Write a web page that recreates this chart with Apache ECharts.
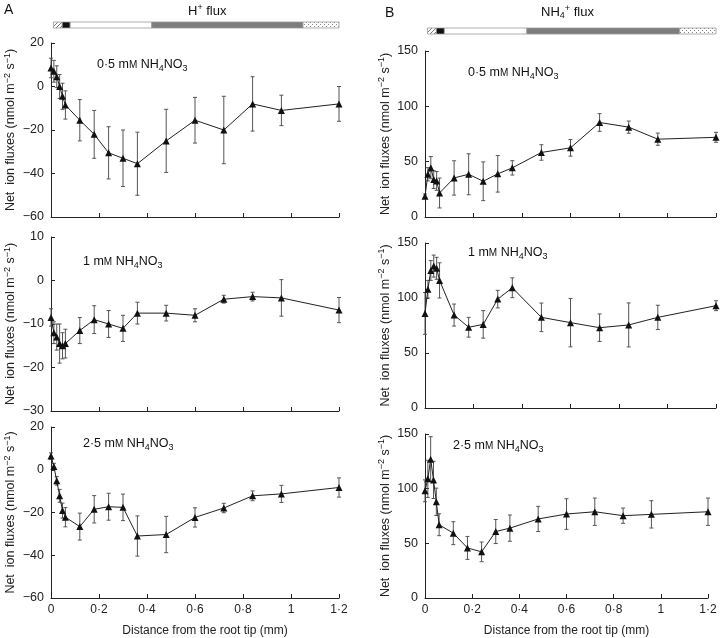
<!DOCTYPE html>
<html>
<head>
<meta charset="utf-8">
<script src="https://cdn.jsdelivr.net/npm/echarts@6/dist/echarts.min.js"></script>
<style>
  html, body { margin: 0; padding: 0; background: #fff; }
  #main { width: 720px; height: 638px; }
</style>
</head>
<body>
<div id="main"></div>
<script>
// distance from root tip (mm)
const xs = [0, 0.012, 0.024, 0.036, 0.048, 0.06, 0.12, 0.18, 0.24, 0.30, 0.36, 0.48, 0.60, 0.72, 0.84, 0.96, 1.2];

// H+ flux (panel A)
const hLow = [8.5, 7, 4.5, 0, -4.5, -8.5, -15.5, -22, -30.5, -33, -35.5, -25, -15.5, -20, -8, -11, -8];
const hLowErr = [4.5, 5, 5, 5.5, 6, 6.5, 9.5, 11, 12, 13, 14.5, 14.5, 10.5, 15.5, 12.5, 7, 8];
const hMid = [-8.5, -12, -13, -14.5, -15, -14.5, -11.5, -9, -10, -11, -7.5, -7.5, -8, -4.3, -3.7, -4, -6.8];
const hMidErr = [2, 2.5, 3, 4.5, 3, 3.3, 3, 3.2, 3.1, 3, 2.5, 1.8, 1.5, 0.9, 1, 4.2, 2.9];
const hHigh = [6.4, 1.5, -5.2, -12.2, -19.1, -22.2, -26.6, -18.5, -17.3, -17.6, -31, -30.3, -22.3, -17.9, -12.2, -11.3, -8.3];
const hHighErr = [1.5, 1.5, 2, 3, 3.5, 4.5, 6.3, 6.4, 6.3, 6.2, 9.4, 8.5, 4.5, 2.2, 2.3, 4, 4.5];

// NH4+ flux (panel B)
const nLow = [18.7, 38.6, 44.6, 33.8, 32.6, 21.7, 35.3, 38.6, 32.3, 39, 44.4, 58.3, 62.5, 85.4, 81.2, 70.3, 72];
const nLowErr = [2, 6, 10, 8, 8.5, 13.5, 15.5, 18.5, 17.5, 16.5, 6.5, 7, 7.5, 8, 5.5, 5.5, 4.5];
const nMid = [86, 108, 125, 129, 127, 116, 84.5, 73.4, 76, 99, 109.3, 82.4, 77.6, 73, 75.5, 82.4, 93];
const nMidErr = [19, 8, 9, 10, 10, 16, 10, 9, 12.5, 8, 9, 13, 22, 12.5, 20, 11, 4.5];
const nHigh = [98, 109, 127, 108, 88, 67, 59.3, 45.8, 42.2, 60.8, 63.9, 72.3, 76.8, 78.9, 75.3, 76.5, 78.9];
const nHighErr = [10, 17, 20.5, 17, 12.5, 10, 10.5, 10.5, 9, 11, 12, 11.5, 14, 12.5, 7, 12.5, 12.5];

// root zone bar above each column
const zoneEdges = [0.01, 0.047, 0.08, 0.42, 1.05, 1.2];
const zoneKinds = ['hatch', 'black', 'white', 'grey', 'dots'];

const concLabels = ['0·5 m{sc|M} NH{sub|4}NO{sub|3}', '1 m{sc|M} NH{sub|4}NO{sub|3}', '2·5 m{sc|M} NH{sub|4}NO{sub|3}'];

const FONT = 'Liberation Sans, Arial, sans-serif';

function makePattern(kind) {
    const c = document.createElement('canvas');
    c.width = 4; c.height = 4;
    const g = c.getContext('2d');
    g.fillStyle = '#fff';
    g.fillRect(0, 0, 4, 4);
    if (kind === 'hatch') {
        g.strokeStyle = '#777';
        g.lineWidth = 1;
        g.beginPath();
        g.moveTo(0, 4); g.lineTo(4, 0);
        g.moveTo(-1, 1); g.lineTo(1, -1);
        g.moveTo(3, 5); g.lineTo(5, 3);
        g.stroke();
    } else {
        g.fillStyle = '#888';
        g.fillRect(0, 0, 1, 1);
        g.fillRect(2, 2, 1, 1);
    }
    return { image: c, repeat: 'repeat' };
}
const fills = {
    hatch: makePattern('hatch'),
    dots: makePattern('dots'),
    black: '#111',
    white: '#fff',
    grey: '#7d7d7d'
};

// sub/superscripts and small-caps M
const rich = {
    sub: { fontSize: 9, verticalAlign: 'bottom', lineHeight: 10, fontFamily: FONT, color: '#111' },
    sup: { fontSize: 9, verticalAlign: 'top', lineHeight: 8, fontFamily: FONT, color: '#111' },
    sc: { fontSize: 10, verticalAlign: 'middle', lineHeight: 16, fontFamily: FONT, color: '#111' }
};

// panel grids: [left, top, width, height]
const panels = [
    { grid: [51, 43, 288, 174], min: -60, max: 20, step: 20, y: hLow, e: hLowErr, lab: 0, lx: 97, ly: 57 },
    { grid: [51, 237, 288, 174], min: -30, max: 10, step: 10, y: hMid, e: hMidErr, lab: 1, lx: 83, ly: 254 },
    { grid: [51, 427, 288, 175], min: -60, max: 20, step: 20, y: hHigh, e: hHighErr, lab: 2, lx: 83, ly: 436, bottom: true },
    { grid: [425, 51, 291, 166], min: 0, max: 150, step: 50, y: nLow, e: nLowErr, lab: 0, lx: 468, ly: 65 },
    { grid: [425, 243, 291, 165], min: 0, max: 150, step: 50, y: nMid, e: nMidErr, lab: 1, lx: 468, ly: 245 },
    { grid: [425, 434, 283, 166], min: 0, max: 150, step: 50, y: nHigh, e: nHighErr, lab: 2, lx: 453, ly: 438, bottom: true }
];
const zoneBars = [[51, 22, 288, 6], [425, 28, 291, 6]];

const grids = [], xAxes = [], yAxes = [], series = [], titles = [];

panels.forEach((p, i) => {
    grids.push({ left: p.grid[0], top: p.grid[1], width: p.grid[2], height: p.grid[3] });
    xAxes.push({
        type: 'value', gridIndex: i, min: 0, max: 1.2, interval: 0.2,
        axisLine: { onZero: false, lineStyle: { color: '#222', width: 1 } },
        axisTick: { inside: true, length: 4, lineStyle: { color: '#222' } },
        axisLabel: {
            show: !!p.bottom, color: '#222', fontSize: 12, fontFamily: FONT, margin: 6,
            showMinLabel: true, showMaxLabel: true,
            formatter: v => String(+v.toFixed(1)).replace('.', '·')
        },
        splitLine: { show: false },
        name: p.bottom ? 'Distance from the root tip (mm)' : '',
        nameLocation: 'middle', nameGap: 27,
        nameTextStyle: { color: '#222', fontSize: 12, fontFamily: FONT, padding: i < 3 ? [0, 0, 0, 20] : 0 }
    });
    yAxes.push({
        type: 'value', gridIndex: i, min: p.min, max: p.max, interval: p.step,
        axisLine: { show: true, onZero: false, lineStyle: { color: '#222', width: 1 } },
        axisTick: { show: true, inside: true, length: 4, lineStyle: { color: '#222' } },
        axisLabel: {
            color: '#222', fontSize: 12.5, fontFamily: FONT, margin: 7,
            formatter: v => String(v).replace('-', '\u2212')
        },
        splitLine: { show: false },
        name: 'Net  ion fluxes (nmol m{sup|\u22122} s{sup|\u22121})',
        nameLocation: 'middle', nameRotate: 90, nameGap: i < 3 ? 32 : 31,
        nameTextStyle: { color: '#222', fontSize: 12.5, fontFamily: FONT, lineHeight: 16, rich: rich }
    });
    series.push({
        type: 'custom', xAxisIndex: i, yAxisIndex: i, z: 1,
        encode: { x: 0, y: 1 },
        data: xs.map((x, k) => [x, p.y[k], p.e[k]]),
        renderItem: (params, api) => {
            const x = api.value(0), y = api.value(1), e = api.value(2);
            const t = api.coord([x, y + e]), b = api.coord([x, y - e]);
            const st = { stroke: '#555', lineWidth: 1 };
            return {
                type: 'group', children: [
                    { type: 'line', shape: { x1: t[0], y1: t[1], x2: b[0], y2: b[1] }, style: st },
                    { type: 'line', shape: { x1: t[0] - 2, y1: t[1], x2: t[0] + 2, y2: t[1] }, style: st },
                    { type: 'line', shape: { x1: b[0] - 2, y1: b[1], x2: b[0] + 2, y2: b[1] }, style: st }
                ]
            };
        }
    });
    series.push({
        type: 'line', xAxisIndex: i, yAxisIndex: i, z: 3,
        data: xs.map((x, k) => [x, p.y[k]]),
        symbol: 'triangle', symbolSize: 7, showSymbol: true,
        itemStyle: { color: '#111' },
        lineStyle: { color: '#222', width: 1 },
        animation: false
    });
    titles.push({
        text: concLabels[p.lab], left: p.lx, top: p.ly, padding: 0,
        textStyle: { fontSize: 12.5, fontWeight: 'normal', color: '#111', fontFamily: FONT, lineHeight: 16, rich: rich }
    });
});

zoneBars.forEach((z, j) => {
    const gi = grids.length;
    grids.push({ left: z[0], top: z[1], width: z[2], height: z[3] });
    xAxes.push({ type: 'value', gridIndex: gi, min: 0, max: 1.2, show: false });
    yAxes.push({ type: 'value', gridIndex: gi, min: 0, max: 1, show: false });
    series.push({
        type: 'custom', xAxisIndex: gi, yAxisIndex: gi,
        encode: { x: [0, 1] },
        data: zoneKinds.map((k, n) => [zoneEdges[n], zoneEdges[n + 1], n]),
        renderItem: (params, api) => {
            const a = api.coord([api.value(0), 1]), b = api.coord([api.value(1), 0]);
            return {
                type: 'rect',
                shape: { x: a[0], y: a[1], width: b[0] - a[0], height: b[1] - a[1] },
                style: { fill: fills[zoneKinds[api.value(2)]], stroke: '#999', lineWidth: 0.8 }
            };
        }
    });
});

titles.push(
    { text: 'A', left: 4, top: 3, padding: 0, textStyle: { fontSize: 14, fontWeight: 'normal', color: '#111', fontFamily: FONT } },
    { text: 'B', left: 385, top: 6, padding: 0, textStyle: { fontSize: 14, fontWeight: 'normal', color: '#111', fontFamily: FONT } },
    { text: 'H{sup|+} flux', left: 188, top: 3, padding: 0,
      textStyle: { fontSize: 13, fontWeight: 'normal', color: '#111', fontFamily: FONT, lineHeight: 16, rich: rich } },
    { text: 'NH{sub|4}{sup|+} flux', left: 541, top: 4, padding: 0,
      textStyle: { fontSize: 13, fontWeight: 'normal', color: '#111', fontFamily: FONT, lineHeight: 16, rich: rich } }
);

const chart = echarts.init(document.getElementById('main'), null, { renderer: 'canvas' });
chart.setOption({
    backgroundColor: '#fff',
    animation: false,
    title: titles,
    grid: grids,
    xAxis: xAxes,
    yAxis: yAxes,
    series: series
});
</script>
</body>
</html>
